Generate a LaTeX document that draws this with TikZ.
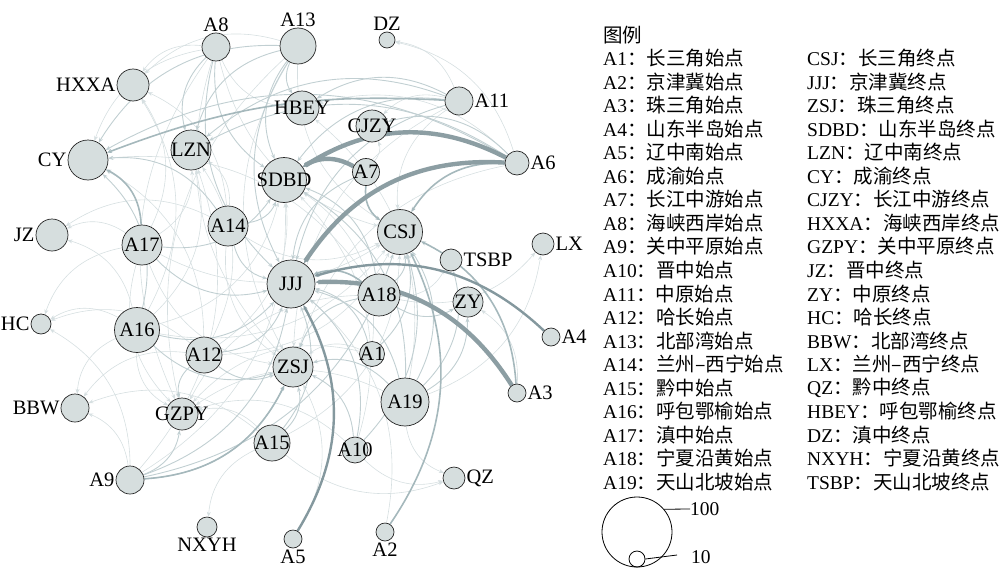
\documentclass[tikz,border=0pt]{standalone}
\usepackage{fontspec}
\setmainfont{Liberation Serif}
\newfontfamily\cjk{Noto Sans CJK SC}
\usetikzlibrary{arrows.meta,backgrounds}
\definecolor{nfill}{RGB}{214,222,222}
\definecolor{ecA}{RGB}{214,223,225}
\definecolor{ecB}{RGB}{193,207,210}
\definecolor{ecC}{RGB}{165,184,188}
\definecolor{ecD}{RGB}{132,152,158}
\definecolor{ecE}{RGB}{140,158,163}
\begin{document}
\begin{tikzpicture}[x=1pt,y=-1pt,
  font=\fontsize{19.5}{22}\selectfont,
  vtx/.style={circle,draw=black!85,line width=0.7pt,fill=nfill,inner sep=0pt,minimum size=#1},
  lab/.style={inner sep=1pt,font=\fontsize{20.5}{22}\selectfont},
  edge/.style={bend right=30,-{Stealth[length=5pt,width=4pt]}},
  ea/.style={edge,draw=ecA,line width=0.6pt},
  eb/.style={edge,draw=ecB,line width=0.9pt},
  ec/.style={edge,draw=ecC,line width=1.6pt},
  ed/.style={edge,draw=ecD,line width=2.4pt},
  ee/.style={edge,draw=ecE,line width=4.4pt},
  legtext/.style={anchor=west,inner sep=0pt}]
\useasboundingbox (0,0) rectangle (1000,570);
% nodes
\node[vtx=28,label={[lab]above:A8}] (A8) at (216,47) {};
\node[vtx=36,label={[lab]above:A13}] (A13) at (298,46) {};
\node[vtx=16,label={[lab]above:DZ}] (DZ) at (387,40) {};
\node[vtx=32,label={[lab]left:HXXA}] (HXXA) at (133,85) {};
\node[vtx=28,label={[lab]right:A11}] (A11) at (459,101) {};
\node[vtx=34,label={[lab]center:HBEY}] (HBEY) at (302,108) {};
\node[vtx=32,label={[lab]center:CJZY}] (CJZY) at (372,126) {};
\node[vtx=40,label={[lab]center:LZN}] (LZN) at (191,150) {};
\node[vtx=40,label={[lab]left:CY}] (CY) at (88,160) {};
\node[vtx=24,label={[lab]right:A6}] (A6) at (517,163) {};
\node[vtx=45,label={[lab]center:SDBD}] (SDBD) at (284,180) {};
\node[vtx=27,label={[lab]center:A7}] (A7) at (366,172) {};
\node[vtx=40,label={[lab]center:A14}] (A14) at (228,226) {};
\node[vtx=40,label={[lab]center:A17}] (A17) at (142,245) {};
\node[vtx=32,label={[lab]left:JZ}] (JZ) at (52,235) {};
\node[vtx=45,label={[lab]center:CSJ}] (CSJ) at (400,232) {};
\node[vtx=22,label={[lab]right:LX}] (LX) at (543,244) {};
\node[vtx=22,label={[lab]right:TSBP}] (TSBP) at (451,260) {};
\node[vtx=48,label={[lab]center:JJJ}] (JJJ) at (291,284) {};
\node[vtx=42,label={[lab]center:A18}] (A18) at (379,295) {};
\node[vtx=30,label={[lab]center:ZY}] (ZY) at (468,302) {};
\node[vtx=18,label={[lab]right:A4}] (A4) at (551,337) {};
\node[vtx=20,label={[lab]left:HC}] (HC) at (41,324) {};
\node[vtx=45,label={[lab]center:A16}] (A16) at (137,330) {};
\node[vtx=36,label={[lab]center:A12}] (A12) at (204,355) {};
\node[vtx=40,label={[lab]center:ZSJ}] (ZSJ) at (293,367) {};
\node[vtx=25,label={[lab]center:A1}] (A1) at (372,354) {};
\node[vtx=18,label={[lab]right:A3}] (A3) at (517,393) {};
\node[vtx=48,label={[lab]center:A19}] (A19) at (405,402) {};
\node[vtx=28,label={[lab]left:BBW}] (BBW) at (75,408) {};
\node[vtx=32,label={[lab]center:GZPY}] (GZPY) at (182,414) {};
\node[vtx=36,label={[lab]center:A15}] (A15) at (272,443) {};
\node[vtx=26,label={[lab]center:A10}] (A10) at (355,450) {};
\node[vtx=28,label={[lab]left:A9}] (A9) at (130,480) {};
\node[vtx=22,label={[lab]right:QZ}] (QZ) at (454,478) {};
\node[vtx=20,label={[lab]below:NXYH}] (NXYH) at (207,527) {};
\node[vtx=18,label={[lab]below:A5}] (A5) at (293,539) {};
\node[vtx=18,label={[lab]below:A2}] (A2) at (385,532) {};
% edges
\begin{pgfonlayer}{background}
\foreach \s/\t in {A1/ZSJ,A1/SDBD,A1/GZPY,A2/JJJ,A3/ZY,A5/ZSJ,A6/DZ,A6/HBEY,A6/ZSJ,A7/CJZY,
  A8/HXXA,A8/CY,A8/ZSJ,A8/GZPY,A8/HBEY,A8/CSJ,A9/SDBD,A9/BBW,A9/LZN,A9/HC,A10/SDBD,A10/QZ,A10/GZPY,
  A11/CJZY,A11/DZ,A11/CSJ,A11/ZSJ,A12/BBW,A12/HC,A12/SDBD,A12/CSJ,A12/LZN,A12/CY,
  A13/HXXA,A13/ZSJ,A13/CSJ,A13/GZPY,A14/LZN,A14/ZSJ,A14/JZ,A14/CSJ,A14/HXXA,A15/QZ,A15/NXYH,
  A15/CSJ,A15/GZPY,A15/BBW,A16/HC,A16/BBW,A16/JZ,A16/GZPY,A16/SDBD,A16/CSJ,A16/LZN,A16/HXXA,
  A17/JZ,A17/ZSJ,A17/HXXA,A17/LZN,A17/CSJ,A17/HC,A17/GZPY,A18/LX,A18/TSBP,A18/GZPY,A18/CY,
  A19/QZ,A19/LX,A19/GZPY,A19/HBEY}
  \draw[ea] (\s) to (\t);
\foreach \s/\t in {A1/JJJ,A1/CSJ,A6/CJZY,A6/LZN,A6/CY,A7/JJJ,A8/LZN,A8/SDBD,A8/JJJ,
  A9/GZPY,A9/ZSJ,A9/JJJ,A9/CSJ,A10/JJJ,A10/ZSJ,A10/CSJ,A11/HBEY,A11/SDBD,A11/LZN,
  A11/JJJ,A12/GZPY,A12/ZSJ,A12/JJJ,A13/HBEY,A13/SDBD,A13/LZN,A13/CY,A13/JJJ,
  A14/SDBD,A14/JJJ,A14/CY,A15/ZSJ,A15/JJJ,A16/CY,A16/JJJ,A16/ZSJ,A17/JJJ,A17/SDBD,
  A18/ZY,A18/CSJ,A18/ZSJ,A18/SDBD,A19/ZSJ,A19/JJJ,A19/CSJ,A19/ZY,A19/SDBD,A19/TSBP}
  \draw[eb] (\s) to (\t);
\foreach \s/\t in {A2/CSJ,A3/CSJ,A6/CSJ,A7/CSJ,A17/CY,A18/JJJ,A9/ZSJ}
  \draw[ec] (\s) to (\t);
\draw[ec,bend right=12] (A11) to (CY);
\foreach \s/\t in {A4/JJJ,A5/JJJ}
  \draw[ed] (\s) to (\t);
\foreach \s/\t in {A3/JJJ,A6/SDBD,A6/JJJ,A7/SDBD}
  \draw[ee] (\s) to (\t);
\end{pgfonlayer}
% legend
\node[legtext] (L0) at (603,35) {\cjk 图例};
\node[legtext] (L1) at (603,58) {A1\cjk{：长三角始点}};
\node[legtext] (L2) at (603,81.6) {A2\cjk{：京津冀始点}};
\node[legtext] (L3) at (603,105.1) {A3\cjk{：珠三角始点}};
\node[legtext] (L4) at (603,128.7) {A4\cjk{：山东半岛始点}};
\node[legtext] (L5) at (603,152.2) {A5\cjk{：辽中南始点}};
\node[legtext] (L6) at (603,175.8) {A6\cjk{：成渝始点}};
\node[legtext] (L7) at (603,199.4) {A7\cjk{：长江中游始点}};
\node[legtext] (L8) at (603,222.9) {A8\cjk{：海峡西岸始点}};
\node[legtext] (L9) at (603,246.5) {A9\cjk{：关中平原始点}};
\node[legtext] (L10) at (603,270.0) {A10\cjk{：晋中始点}};
\node[legtext] (L11) at (603,293.6) {A11\cjk{：中原始点}};
\node[legtext] (L12) at (603,317.2) {A12\cjk{：哈长始点}};
\node[legtext] (L13) at (603,340.7) {A13\cjk{：北部湾始点}};
\node[legtext] (L14) at (603,364.3) {A14\cjk{：兰州–西宁始点}};
\node[legtext] (L15) at (603,387.8) {A15\cjk{：黔中始点}};
\node[legtext] (L16) at (603,411.4) {A16\cjk{：呼包鄂榆始点}};
\node[legtext] (L17) at (603,435.0) {A17\cjk{：滇中始点}};
\node[legtext] (L18) at (603,458.5) {A18\cjk{：宁夏沿黄始点}};
\node[legtext] (L19) at (603,482.1) {A19\cjk{：天山北坡始点}};
\node[legtext] (R1) at (807,58) {CSJ\cjk{：长三角终点}};
\node[legtext] (R2) at (807,81.6) {JJJ\cjk{：京津冀终点}};
\node[legtext] (R3) at (807,105.1) {ZSJ\cjk{：珠三角终点}};
\node[legtext] (R4) at (807,128.7) {SDBD\cjk{：山东半岛终点}};
\node[legtext] (R5) at (807,152.2) {LZN\cjk{：辽中南终点}};
\node[legtext] (R6) at (807,175.8) {CY\cjk{：成渝终点}};
\node[legtext] (R7) at (807,199.4) {CJZY\cjk{：长江中游终点}};
\node[legtext] (R8) at (807,222.9) {HXXA\cjk{：海峡西岸终点}};
\node[legtext] (R9) at (807,246.5) {GZPY\cjk{：关中平原终点}};
\node[legtext] (R10) at (807,270.0) {JZ\cjk{：晋中终点}};
\node[legtext] (R11) at (807,293.6) {ZY\cjk{：中原终点}};
\node[legtext] (R12) at (807,317.2) {HC\cjk{：哈长终点}};
\node[legtext] (R13) at (807,340.7) {BBW\cjk{：北部湾终点}};
\node[legtext] (R14) at (807,364.3) {LX\cjk{：兰州–西宁终点}};
\node[legtext] (R15) at (807,387.8) {QZ\cjk{：黔中终点}};
\node[legtext] (R16) at (807,411.4) {HBEY\cjk{：呼包鄂榆终点}};
\node[legtext] (R17) at (807,435.0) {DZ\cjk{：滇中终点}};
\node[legtext] (R18) at (807,458.5) {NXYH\cjk{：宁夏沿黄终点}};
\node[legtext] (R19) at (807,482.1) {TSBP\cjk{：天山北坡终点}};
% size scale
\node[circle,draw=black,line width=0.8pt,inner sep=0pt,minimum size=70] (big) at (637,532) {};
\node[circle,draw=black,line width=0.8pt,inner sep=0pt,minimum size=16] (small) at (637,559) {};
\node[legtext] (t100) at (690,509) {100};
\node[legtext] (t10) at (691,557) {10};
\coordinate (c10) at (677,555);
\draw[line width=0.8pt] (big.40) -- (t100.west);
\draw[line width=0.8pt] (small.east) -- (c10);
\end{tikzpicture}
\end{document}
